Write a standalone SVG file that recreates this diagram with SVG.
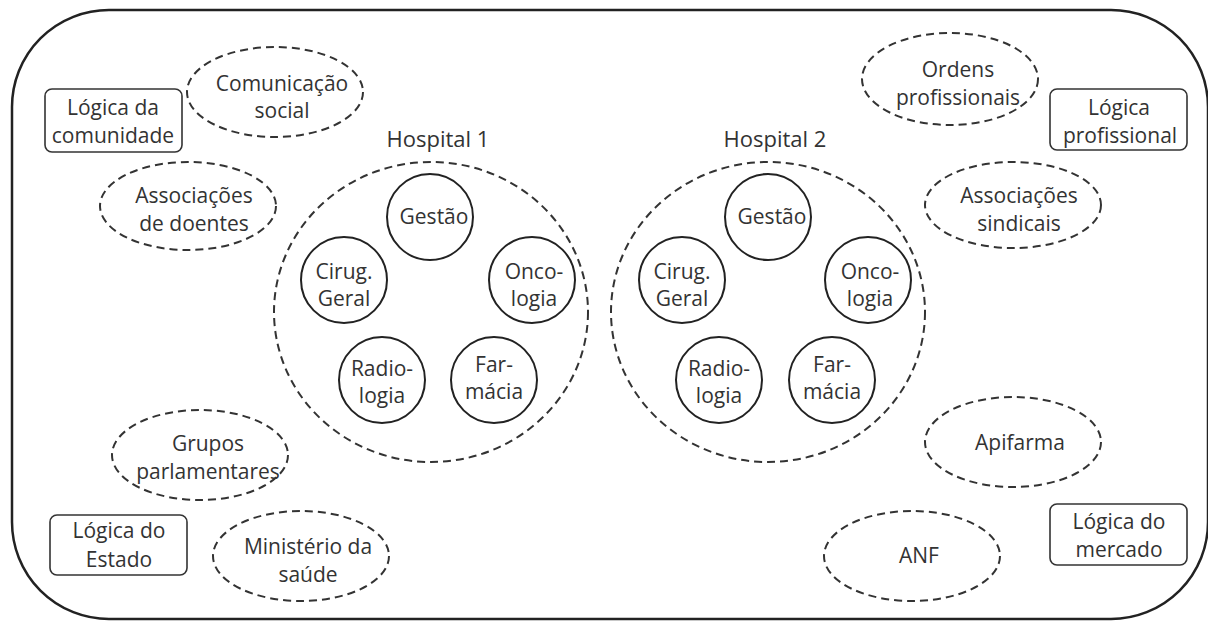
<svg xmlns="http://www.w3.org/2000/svg" width="1208" height="621" viewBox="0 0 1208 621">
<style>
text{font-family:"Open Sans","Noto Sans","Liberation Sans",sans-serif;font-size:21px;fill:#333;text-anchor:middle}
.lbl{font-size:22px}
.dash{fill:none;stroke:#333;stroke-width:2;stroke-dasharray:8 5}
.hosp{fill:none;stroke:#333;stroke-width:2;stroke-dasharray:8 5}
.box{fill:#fff;stroke:#333;stroke-width:1.6}
.unit{fill:#fff;stroke:#222;stroke-width:2}
</style>
<rect id="frame" x="12" y="10" width="1196" height="609" rx="97" ry="97" fill="#fff" stroke="#222" stroke-width="2.5"/>

<g id="hospital1">
<ellipse class="hosp" cx="431" cy="312" rx="157" ry="150"/>
<text class="lbl" x="438" y="147">Hospital 1</text>
</g>
<g id="h1-gestao"><circle class="unit" cx="430" cy="217" r="43"/><text x="434" y="224">Gestão</text></g>
<g id="h1-cirurgia"><circle class="unit" cx="344" cy="280" r="43"/><text x="344" y="279">Cirug.</text><text x="344" y="306">Geral</text></g>
<g id="h1-oncologia"><circle class="unit" cx="532" cy="280" r="43"/><text x="534" y="279">Onco-</text><text x="534" y="306">logia</text></g>
<g id="h1-radiologia"><circle class="unit" cx="382" cy="380" r="43"/><text x="382" y="376">Radio-</text><text x="382" y="403">logia</text></g>
<g id="h1-farmacia"><circle class="unit" cx="494" cy="380" r="43"/><text x="494" y="372">Far-</text><text x="494" y="399">mácia</text></g>

<g id="hospital2">
<ellipse class="hosp" cx="768" cy="312" rx="157" ry="150"/>
<text class="lbl" x="775" y="147">Hospital 2</text>
</g>
<g id="h2-gestao"><circle class="unit" cx="768" cy="217" r="43"/><text x="772" y="224">Gestão</text></g>
<g id="h2-cirurgia"><circle class="unit" cx="682" cy="280" r="43"/><text x="682" y="279">Cirug.</text><text x="682" y="306">Geral</text></g>
<g id="h2-oncologia"><circle class="unit" cx="868" cy="280" r="43"/><text x="870" y="279">Onco-</text><text x="870" y="306">logia</text></g>
<g id="h2-radiologia"><circle class="unit" cx="719" cy="380" r="43"/><text x="719" y="376">Radio-</text><text x="719" y="403">logia</text></g>
<g id="h2-farmacia"><circle class="unit" cx="832" cy="380" r="43"/><text x="832" y="372">Far-</text><text x="832" y="399">mácia</text></g>

<g id="comunicacao-social"><ellipse class="dash" cx="275" cy="92" rx="88" ry="45"/><text x="282" y="91">Comunicação</text><text x="282" y="118">social</text></g>
<g id="logica-comunidade"><rect class="box" x="45" y="89" width="137" height="63" rx="7"/><text x="113" y="115">Lógica da</text><text x="113" y="143">comunidade</text></g>
<g id="associacoes-doentes"><ellipse class="dash" cx="188" cy="206" rx="88" ry="44"/><text x="194" y="203">Associações</text><text x="194" y="231">de doentes</text></g>

<g id="ordens-profissionais"><ellipse class="dash" cx="950" cy="79" rx="88" ry="46"/><text x="958" y="77">Ordens</text><text x="958" y="105">profissionais</text></g>
<g id="logica-profissional"><rect class="box" x="1050" y="89" width="137" height="61" rx="7"/><text x="1119" y="115">Lógica</text><text x="1120" y="143">profissional</text></g>
<g id="associacoes-sindicais"><ellipse class="dash" cx="1013" cy="205" rx="88" ry="43"/><text x="1019" y="203">Associações</text><text x="1019" y="231">sindicais</text></g>

<g id="grupos-parlamentares"><ellipse class="dash" cx="200" cy="455" rx="88" ry="45"/><text x="208" y="451">Grupos</text><text x="208" y="479">parlamentares</text></g>
<g id="logica-estado"><rect class="box" x="50" y="515" width="137" height="60" rx="7"/><text x="119" y="538">Lógica do</text><text x="119" y="567">Estado</text></g>
<g id="ministerio-saude"><ellipse class="dash" cx="301" cy="556" rx="88" ry="45"/><text x="308" y="554">Ministério da</text><text x="308" y="582">saúde</text></g>

<g id="apifarma"><ellipse class="dash" cx="1013" cy="442" rx="88" ry="45"/><text x="1020" y="450">Apifarma</text></g>
<g id="anf"><ellipse class="dash" cx="912" cy="556" rx="88" ry="45"/><text x="919" y="563">ANF</text></g>
<g id="logica-mercado"><rect class="box" x="1050" y="504" width="137" height="61" rx="7"/><text x="1119" y="529">Lógica do</text><text x="1119" y="557">mercado</text></g>

<g id="connectors"/>
</svg>
